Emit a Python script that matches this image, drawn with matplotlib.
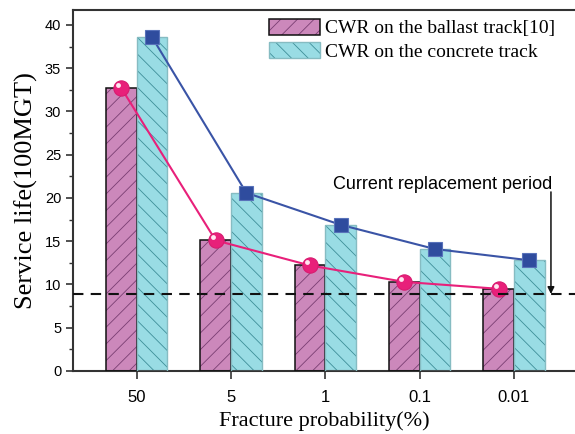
import matplotlib
matplotlib.use("Agg")
import matplotlib.pyplot as plt
import numpy as np
from matplotlib.patches import Patch
from matplotlib.legend_handler import HandlerTuple
from matplotlib.transforms import ScaledTranslation

categories = ["50", "5", "1", "0.1", "0.01"]
ballast = [32.7, 15.1, 12.2, 10.3, 9.5]
concrete = [38.6, 20.6, 16.9, 14.1, 12.8]
replacement_period = 8.9
series_labels = ["CWR on the ballast track[10]", "CWR on the concrete track"]

plt.rcParams["hatch.linewidth"] = 0.6

fig = plt.figure(figsize=(5.75, 4.34), dpi=100)
ax = fig.add_axes([73 / 575, 63 / 434, (575 - 73) / 575, 361 / 434])

x = np.arange(len(categories))
w = 0.325
bal_face, bal_hatch = "#CC88BB", "#7A3E72"
con_face, con_hatch = "#99DCE4", "#3E8E98"

# ballast bars
ax.bar(x - w / 2, ballast, w, color=bal_face, edgecolor=bal_hatch, hatch="//", linewidth=0, zorder=2)
ax.bar(x - w / 2, ballast, w, facecolor="none", edgecolor="#111111", linewidth=1.1, zorder=3)
# concrete bars
ax.bar(x + w / 2, concrete, w, color=con_face, edgecolor=con_hatch, hatch="\\\\", linewidth=0, zorder=2)
ax.bar(x + w / 2, concrete, w, facecolor="none", edgecolor="#86BCC2", linewidth=1.0, zorder=3)

# lines + markers
ax.plot(x - w / 2, ballast, color="#E8207A", lw=1.5, zorder=4)
ax.plot(x + w / 2, concrete, color="#3A54A6", lw=1.5, zorder=4)
ax.plot(x - w / 2, ballast, ls="none", marker="o", ms=11, mfc="#E8207A", mec="#D81B70", mew=0.8, zorder=5)
hl = ax.transData + ScaledTranslation(-2.2 / 72, 2.2 / 72, fig.dpi_scale_trans)
ax.plot(x - w / 2, ballast, ls="none", marker="o", ms=3.5, mfc="#FFE6F0", mec="none", zorder=6, transform=hl)
ax.plot(x + w / 2, concrete, ls="none", marker="s", ms=10.5, mfc="#2F4C9E", mec="#5872BA", mew=0.8, zorder=5)

# replacement period
ax.axhline(replacement_period, color="#111111", lw=1.5, ls=(0, (5, 3.5)), zorder=6)
arrow_x = 4.393
ax.annotate("", xy=(arrow_x, replacement_period), xytext=(arrow_x, 20.7),
            arrowprops=dict(arrowstyle="-|>", color="#111111", lw=1.1, mutation_scale=10,
                            shrinkA=0, shrinkB=0), zorder=7)
ax.text(arrow_x + 0.01, 20.6, "Current replacement period", ha="right", va="bottom",
        fontsize=13, family="Liberation Sans", zorder=7)

ax.set_xlim(-0.675, 4.648)
ax.set_ylim(0, 41.73)
ax.set_xticks(x)
ax.set_xticklabels(categories, fontsize=12, family="Liberation Sans")
ax.set_yticks(np.arange(0, 41, 5))
ax.set_yticks(np.arange(2.5, 41, 5), minor=True)
ax.tick_params(axis="y", labelsize=10.5, direction="out", length=5, width=1.2, color="#333333")
ax.tick_params(axis="y", which="minor", direction="out", length=3, width=1.0, color="#333333")
ax.tick_params(axis="x", direction="out", length=6, width=1.2, color="#333333", pad=8)
for lab in ax.get_yticklabels():
    lab.set_family("Liberation Sans")

for s in ["left", "bottom", "top"]:
    ax.spines[s].set_linewidth(1.5)
    ax.spines[s].set_color("#333333")
ax.spines["right"].set_visible(False)

ax.set_xlabel("Fracture probability(%)", fontsize=16, family="Liberation Serif", labelpad=4)
ax.set_ylabel("Service life(100MGT)", fontsize=19, family="Liberation Serif", labelpad=5)

h1 = (Patch(facecolor=bal_face, edgecolor=bal_hatch, hatch="//", linewidth=0),
      Patch(facecolor="none", edgecolor="#111111", linewidth=1.1))
h2 = (Patch(facecolor=con_face, edgecolor=con_hatch, hatch="\\\\", linewidth=0),
      Patch(facecolor="none", edgecolor="#86BCC2", linewidth=1.0))
ax.legend([h1, h2], series_labels, handler_map={tuple: HandlerTuple(ndivide=1)},
          loc="upper left", bbox_to_anchor=((269 - 73) / 502, (371 - 19) / 361),
          frameon=False, borderpad=0, borderaxespad=0, handlelength=2.6, handleheight=0.85,
          handletextpad=0.3, labelspacing=0.25,
          prop={"family": "Liberation Serif", "size": 14})

fig.savefig("out.png", dpi=100)
